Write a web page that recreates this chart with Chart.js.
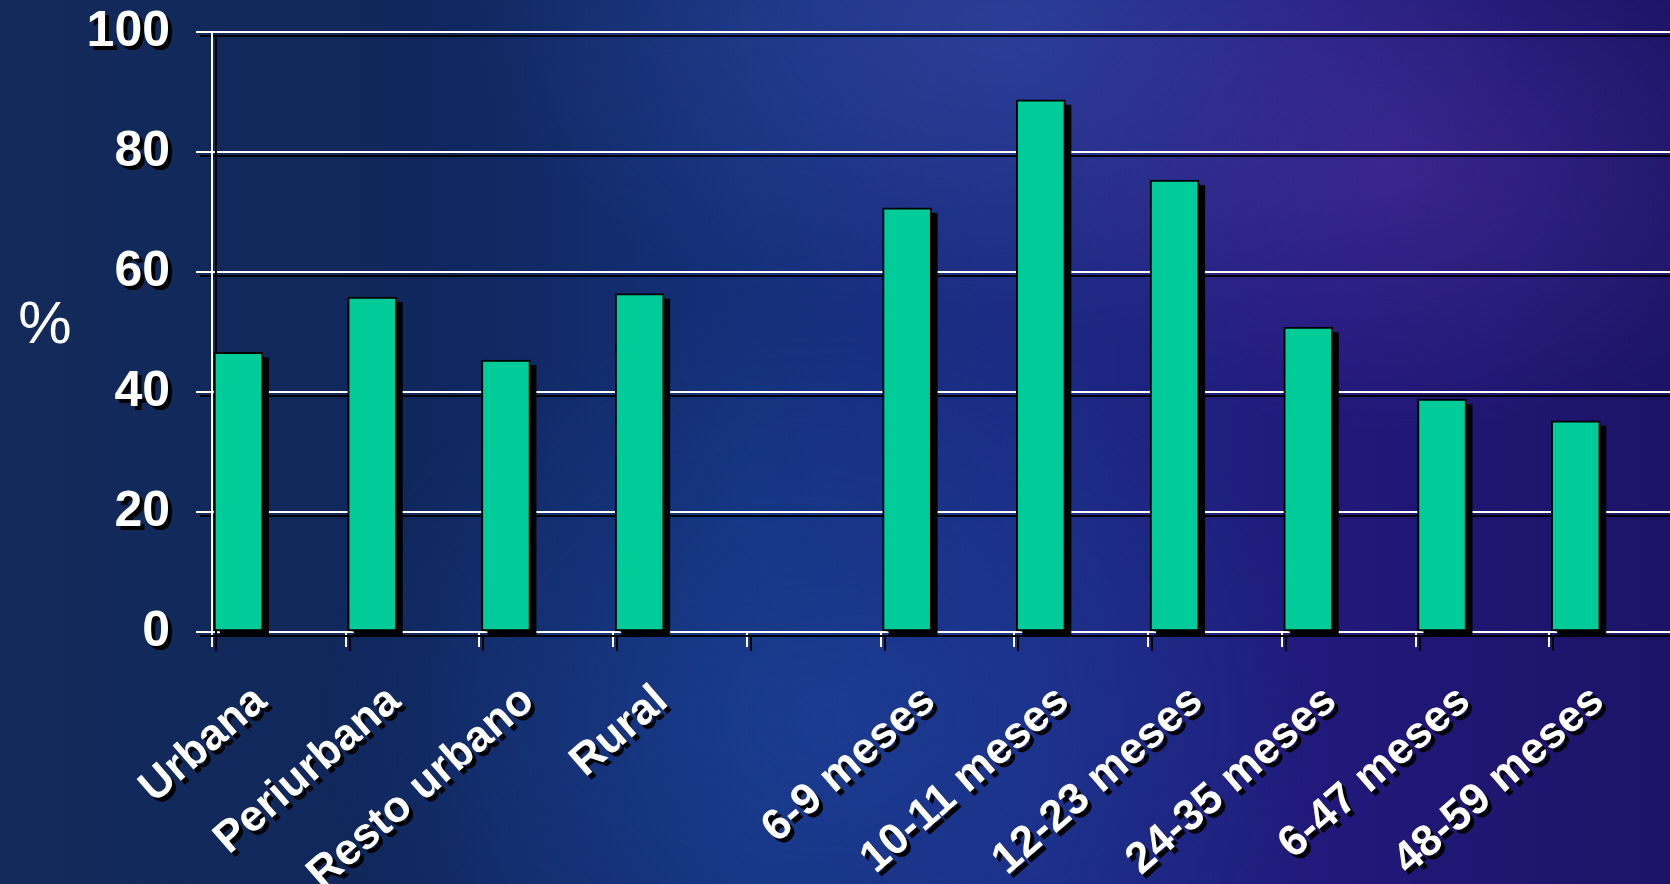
<!DOCTYPE html>
<html lang="es">
<head>
    <meta charset="UTF-8">
    <title>Prevalencia por área y edad</title>
    <script src="https://cdn.jsdelivr.net/npm/chart.js"></script>
    <style>
        html, body {
            margin: 0;
            padding: 0;
            width: 1670px;
            height: 884px;
            overflow: hidden;
        }
        body {
            /* fondo azul oscuro con brillo violeta a la derecha */
            background:
                radial-gradient(ellipse 380px 260px at 1400px 170px, rgba(80, 50, 160, 0.5), rgba(80, 50, 160, 0) 100%),
                radial-gradient(ellipse 520px 300px at 1000px 30px, rgba(60, 80, 170, 0.5), rgba(60, 80, 170, 0) 100%),
                radial-gradient(ellipse 500px 420px at 820px 720px, rgba(30, 70, 160, 0.55), rgba(30, 70, 160, 0) 100%),
                linear-gradient(90deg, #132a5a 0%, #0f275c 25%, #14307a 45%, #1b2a84 62%, #21187a 80%, #1c1466 100%);
        }
        .chart-container {
            position: absolute;
            left: 0;
            top: 0;
            width: 1700px;
            height: 884px;
        }
    </style>
</head>
<body>
    <div class="chart-container">
        <canvas id="grafico"></canvas>
    </div>

    <script>
        // Datos (%)
        var categorias = ['Urbana', 'Periurbana', 'Resto urbano', 'Rural', '',
            '6-9 meses', '10-11 meses', '12-23 meses', '24-35 meses', '6-47 meses', '48-59 meses'];
        var valores = [46.6, 55.8, 45.3, 56.4, null, 70.7, 88.7, 75.3, 50.8, 38.8, 35.2];
        var ticksY = [0, 20, 40, 60, 80, 100];

        var fuente = "'Liberation Sans', Arial, sans-serif";
        var desplazamientoBarra = 0.198; // barra pegada a la izquierda de su categoría

        // Sombra negra para textos y líneas
        var sombra = {
            id: 'sombra',
            beforeDraw: function(chart) {
                var ctx = chart.ctx;
                ctx.save();
                ctx.shadowColor = '#000';
                ctx.shadowOffsetX = 4;
                ctx.shadowOffsetY = 4;
                ctx.shadowBlur = 0;
            },
            // las barras recortan su propia sombra, así que se pinta aparte
            beforeDatasetsDraw: function(chart) {
                var ctx = chart.ctx;
                var meta = chart.getDatasetMeta(0);
                ctx.save();
                ctx.shadowColor = 'rgba(0,0,0,0)';
                ctx.fillStyle = '#000';
                meta.data.forEach(function(bar, i) {
                    if (valores[i] === null) return;
                    var p = bar.getProps(['x', 'y', 'base', 'width'], true);
                    ctx.fillRect(p.x - p.width / 2 + 6, p.y + 5, p.width, p.base - p.y + 1);
                });
                ctx.restore();
            },
            afterDraw: function(chart) {
                var ctx = chart.ctx;
                ctx.restore();
                // título del eje Y sin rotar
                var y = chart.scales.y;
                ctx.save();
                ctx.fillStyle = '#fff';
                ctx.font = '60px ' + fuente;
                ctx.textAlign = 'center';
                ctx.textBaseline = 'middle';
                ctx.fillText('%', 45, y.getPixelForValue(51));
                ctx.restore();
            }
        };

        function sinRelleno(scale) {
            scale.paddingTop = 0;
            scale.paddingBottom = 0;
            scale.paddingLeft = 0;
            scale.paddingRight = 0;
        }

        var ctx = document.getElementById('grafico').getContext('2d');
        var grafico = new Chart(ctx, {
            type: 'bar',
            data: {
                labels: categorias,
                datasets: [{
                    data: valores.map(function(v, i) { return { x: i + desplazamientoBarra, y: v }; }),
                    xAxisID: 'xb',
                    backgroundColor: '#00cc99',
                    borderColor: '#000',
                    borderWidth: 2,
                    borderSkipped: false,
                    barThickness: 49,
                    clip: false
                }]
            },
            options: {
                responsive: true,
                maintainAspectRatio: false,
                animation: false,
                layout: {
                    padding: { top: 32, right: 17, bottom: 0, left: 0 }
                },
                scales: {
                    xb: {
                        type: 'linear',
                        display: false,
                        min: 0,
                        max: categorias.length,
                        offset: false
                    },
                    x: {
                        type: 'category',
                        position: 'bottom',
                        offset: true,
                        afterFit: function(scale) {
                            scale.height = 252;
                            sinRelleno(scale);
                        },
                        grid: {
                            offset: true,
                            drawOnChartArea: false,
                            drawTicks: true,
                            tickLength: 15,
                            color: '#fff',
                            lineWidth: 2
                        },
                        border: { display: true, color: '#fff', width: 2 },
                        ticks: {
                            color: '#fff',
                            font: { family: fuente, size: 44, weight: 'bold' },
                            minRotation: 41,
                            maxRotation: 41,
                            autoSkip: false,
                            padding: 28,
                            labelOffset: -18
                        }
                    },
                    y: {
                        min: 0,
                        max: 100,
                        afterFit: function(scale) {
                            scale.width = 212;
                            sinRelleno(scale);
                        },
                        afterBuildTicks: function(scale) {
                            scale.ticks = ticksY.map(function(v) { return { value: v }; });
                        },
                        grid: {
                            color: '#fff',
                            lineWidth: 2,
                            tickLength: 16
                        },
                        border: { display: true, color: '#fff', width: 2 },
                        ticks: {
                            color: '#fff',
                            font: { family: fuente, size: 50, weight: 'bold' },
                            padding: 26
                        }
                    }
                },
                plugins: {
                    legend: { display: false },
                    tooltip: { enabled: false }
                }
            },
            plugins: [sombra]
        });
    </script>
</body>
</html>
